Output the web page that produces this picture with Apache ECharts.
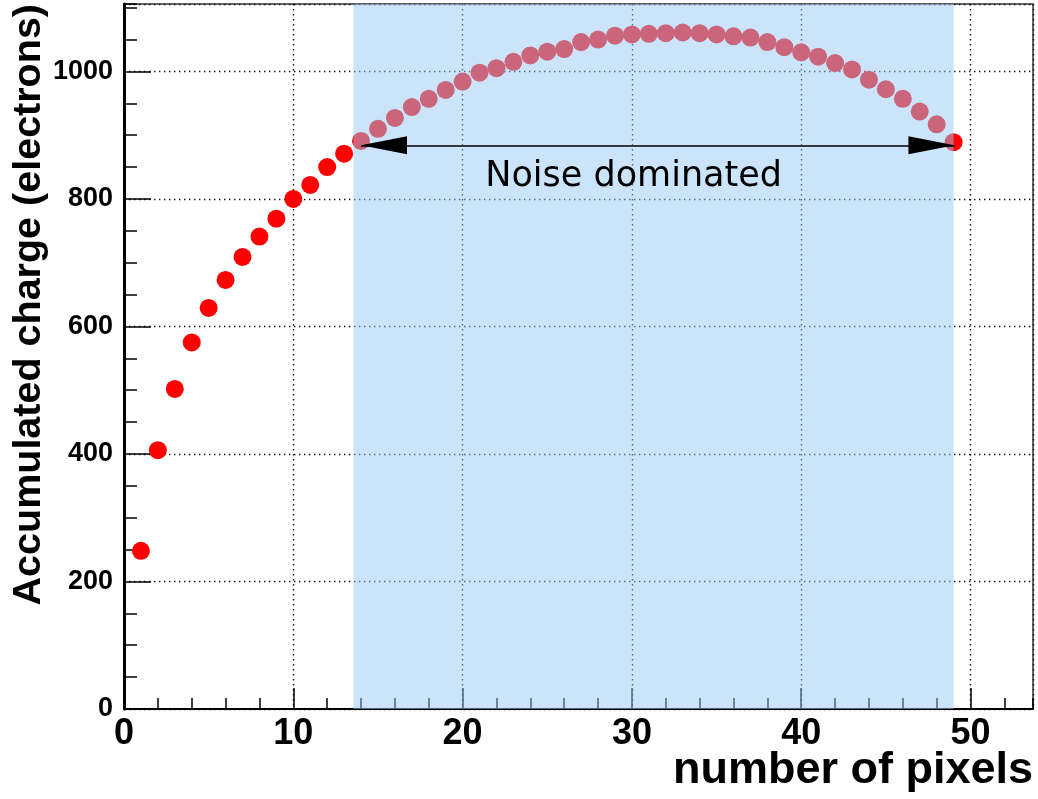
<!DOCTYPE html>
<html>
<head>
<meta charset="utf-8">
<script src="https://cdn.jsdelivr.net/npm/echarts@6/dist/echarts.min.js"></script>
<style>
html,body{margin:0;padding:0;background:#fff;}
#chart{width:1038px;height:799px;}
</style>
</head>
<body>
<div id="chart"></div>
<script>
// ---- data ----
const pixels = [1,2,3,4,5,6,7,8,9,10,11,12,13,14,15,16,17,18,19,20,21,22,23,24,25,26,27,28,29,30,31,32,33,34,35,36,37,38,39,40,41,42,43,44,45,46,47,48,49];
const charge = [248,406,502,575,629,673,709,741,769,800,822,850,871,891,910,927,944,957,971,984,998,1005,1015,1025,1031,1035,1046,1050,1056,1058,1059,1060,1061,1060,1058,1055,1053,1046,1038,1030,1023,1013,1003,987,972,957,937,917,889];
const xRange = [0, 53.69];
const yRange = [0, 1105.7];
const xMajor = 10, xMinor = 2;
const yMajor = 200, yMinor = 50;
const noiseBand = [13.55, 49.0];
const arrowX = [14.0, 49.05];
const arrowY = 884;
const noiseText = 'Noise dominated';
const noiseTextPos = [30.1, 834];
const xTitle = 'number of pixels';
const yTitle = 'Accumulated charge (electrons)';

const points = pixels.map((p, i) => [p, charge[i]]);

const chart = echarts.init(document.getElementById('chart'), null, {renderer: 'canvas'});
const dotted = {color: '#111', width: 1.4, type: [1.4, 3.6]};
const labelFont = {fontFamily: 'Liberation Sans', fontWeight: 'bold', color: '#000'};
const plain = v => String(Math.round(v));

chart.setOption({
  animation: false,
  backgroundColor: '#fff',
  markArea: {z: 3},
  grid: {left: 124, right: 5, top: 4, bottom: 90, show: true, borderColor: '#333', borderWidth: 1.5, backgroundColor: 'transparent'},
  xAxis: [
    {
      type: 'value', position: 'bottom', min: xRange[0], max: xRange[1], interval: xMajor,
      axisLine: {show: true, onZero: false, lineStyle: {color: '#000', width: 2}},
      axisTick: {show: true, inside: true, length: 21, lineStyle: {color: '#000', width: 1.5}},
      axisLabel: Object.assign({fontSize: 36, margin: 7, showMaxLabel: false, formatter: plain}, labelFont),
      splitLine: {show: true, lineStyle: dotted}
    },
    {
      type: 'value', position: 'bottom', min: xRange[0], max: xRange[1], interval: xMinor,
      axisLine: {show: false},
      axisTick: {show: true, inside: true, length: 11, lineStyle: {color: '#000', width: 1.5}},
      axisLabel: {show: false},
      splitLine: {show: false}
    }
  ],
  yAxis: [
    {
      type: 'value', position: 'left', min: yRange[0], max: yRange[1], interval: yMajor,
      axisLine: {show: true, onZero: false, lineStyle: {color: '#000', width: 3}},
      axisTick: {show: true, inside: true, length: 27, lineStyle: {color: '#000', width: 1.5}},
      axisLabel: Object.assign({fontSize: 27, margin: 11, showMaxLabel: false, formatter: plain}, labelFont),
      splitLine: {show: true, lineStyle: dotted}
    },
    {
      type: 'value', position: 'left', min: yRange[0], max: yRange[1], interval: yMinor,
      axisLine: {show: false},
      axisTick: {show: true, inside: true, length: 13, lineStyle: {color: '#000', width: 1.5}},
      axisLabel: {show: false},
      splitLine: {show: false}
    }
  ],
  graphic: [
    {
      type: 'text', z: 10,
      style: {x: 1033, y: 771, text: xTitle, align: 'right', verticalAlign: 'middle',
        font: 'bold 45px "Liberation Sans"', fill: '#000'}
    },
    {
      type: 'text', z: 10, x: 29, y: 4, rotation: Math.PI / 2,
      style: {x: 0, y: 0, text: yTitle, align: 'right', verticalAlign: 'middle',
        font: 'bold 39.5px "Liberation Sans"', fill: '#000'}
    }
  ],
  series: [
    {
      type: 'scatter', xAxisIndex: 0, yAxisIndex: 0, z: 2,
      data: points, symbol: 'circle', symbolSize: 18,
      itemStyle: {color: '#ff0000', opacity: 1},
      markArea: {
        silent: true,
        itemStyle: {color: 'rgba(151,202,246,0.5)', borderWidth: 0},
        data: [[{xAxis: noiseBand[0]}, {xAxis: noiseBand[1]}]]
      },
      markLine: {
        silent: true, animation: false,
        symbol: ['triangle', 'triangle'],
        symbolSize: [18, 46],
        symbolOffset: [[0, '50%'], [0, '50%']],
        lineStyle: {color: '#000', width: 1.5, type: 'solid'},
        label: {show: false},
        data: [[{coord: [arrowX[0], arrowY]}, {coord: [arrowX[1], arrowY]}]]
      },
      markPoint: {
        silent: true,
        symbol: 'circle', symbolSize: 0,
        itemStyle: {color: 'transparent'},
        label: {show: true, position: 'inside', formatter: noiseText,
          fontFamily: 'DejaVu Sans', fontSize: 35, color: '#000'},
        data: [{coord: noiseTextPos}]
      }
    }
  ]
});
</script>
</body>
</html>
